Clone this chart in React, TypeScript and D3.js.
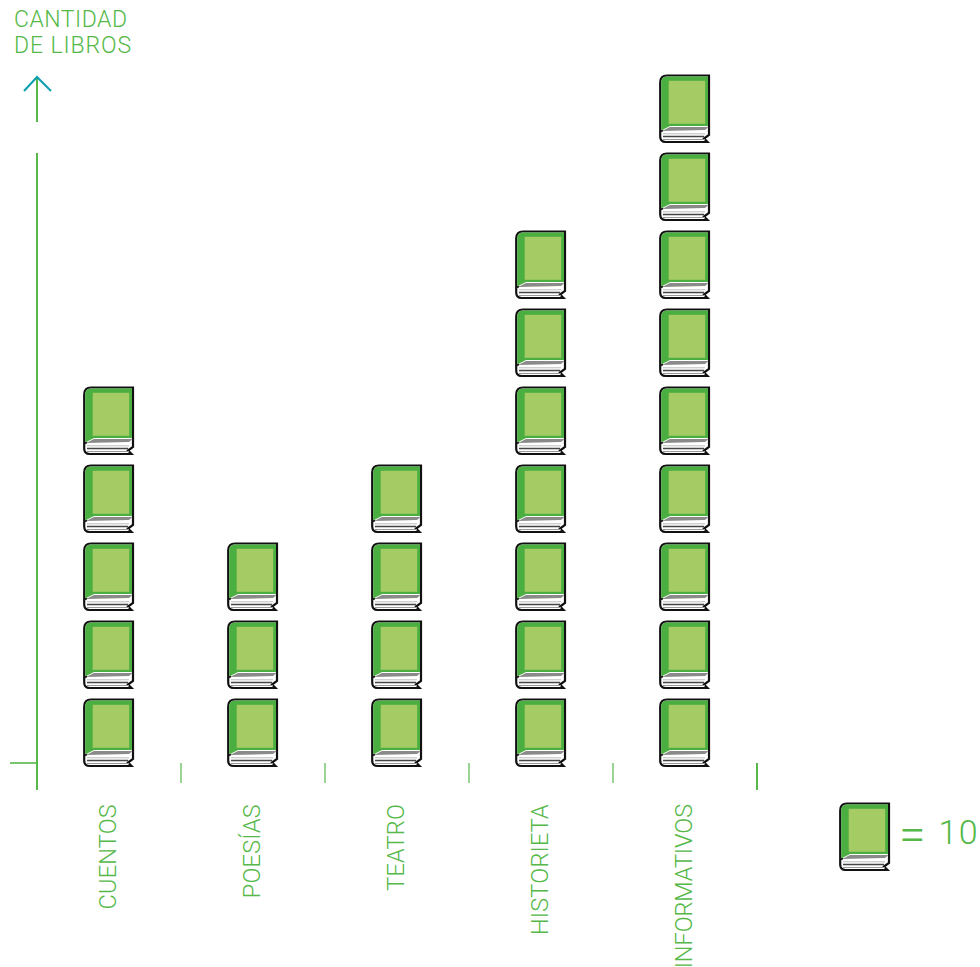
import React from "react";
import * as d3 from "d3";

const categories = ["CUENTOS", "POESÍAS", "TEATRO", "HISTORIETA", "INFORMATIVOS"];
const bookCounts = [5, 3, 4, 7, 9];
const unitValue = 10;
const yTitle = ["CANTIDAD", "DE LIBROS"];
const legendSign = "=";
const legendValue = "10";

const GREEN = "#55b848";
const DARK = "#4bae40";
const LIGHT = "#a5cb65";
const TEAL = "#0a9eb0";
const FONT = "Roboto, 'Liberation Sans', sans-serif";

const x = d3.scaleBand<string>().domain(categories).range([37, 757]);
const y = d3.scaleLinear().domain([0, 90]).range([767, 65]);
const BOOK_W = 51;
const BOOK_H = 68;
const barHeight = y(0) - y(unitValue);

function Book({ tx, ty }: { tx: number; ty: number }) {
  return (
    <g transform={`translate(${tx},${ty - 0.5})`}>
      <path
        d="M1.2,8 Q1.2,1 8,1 L50,1 L50,60.5 L45,64 L48.5,67.5 L6.5,67.5 Q1.2,67.5 1.2,62 Z"
        fill="#fff"
        stroke="#111"
        strokeWidth={2.2}
        strokeLinejoin="miter"
      />
      <path d="M2.2,8 Q2.2,2 8,2 L49,2 L49,51.5 L11,51.5 L2.2,56 Z" fill={DARK} />
      <rect x={9.7} y={6.3} width={36.5} height={43} fill={LIGHT} />
      <path d="M3,56.5 L11,52.5 L49.5,52.5 L46,55.5 Z" fill="#8a8a8a" />
      <path d="M4,59.3 L46,59.3" stroke="#bdbdbd" strokeWidth={1} />
      <path d="M4,62 L45,62" stroke="#444" strokeWidth={1.3} />
      <path d="M4,65 L46,65" stroke="#999" strokeWidth={1.2} />
      <path d="M1.5,57 L4,56" stroke="#111" strokeWidth={1.6} fill="none" />
    </g>
  );
}

export default function App() {
  return (
    <svg
      width={980}
      height={967}
      viewBox="0 0 980 967"
      style={{ position: "absolute", left: 0, top: 0, background: "#fff" }}
    >
      {yTitle.map((t, i) => (
        <text
          key={t}
          x={14}
          y={26.5 + i * 26}
          fontFamily={FONT}
          fontWeight={300}
          fontSize={23}
          letterSpacing={i === 1 ? 0.9 : 0.5}
          fill={GREEN}
        >
          {t}
        </text>
      ))}

      <line x1={37} x2={37} y1={78} y2={122} stroke={GREEN} strokeWidth={2} />
      <path d="M24,91 L37,77 L51,91" fill="none" stroke={TEAL} strokeWidth={2} />
      <line x1={37} x2={37} y1={153} y2={790} stroke={GREEN} strokeWidth={2} />
      <line x1={10} x2={37} y1={763} y2={763} stroke={GREEN} strokeWidth={1.6} />

      {categories.map((c) => {
        const end = (x(c) as number) + x.bandwidth();
        const last = c === categories[categories.length - 1];
        return (
          <line
            key={c}
            x1={end}
            x2={end}
            y1={763}
            y2={last ? 790 : 783}
            stroke={GREEN}
            strokeWidth={last ? 2 : 1.2}
          />
        );
      })}

      {categories.map((c, i) =>
        d3.range(bookCounts[i]).map((k) => (
          <Book
            key={c + k}
            tx={(x(c) as number) + x.bandwidth() / 2 - BOOK_W / 2 - 0.5}
            ty={y((k + 1) * unitValue) + barHeight - BOOK_H}
          />
        ))
      )}

      {categories.map((c) => {
        const cx = (x(c) as number) + x.bandwidth() / 2;
        const isLong = c === "INFORMATIVOS";
        return (
          <text
            key={c}
            transform={`translate(${cx + 7},804) rotate(-90)`}
            textAnchor="end"
            fontFamily={FONT}
            fontWeight={300}
            fontSize={23.5}
            letterSpacing={isLong ? -0.08 : 0.2}
            fill={GREEN}
          >
            {c}
          </text>
        );
      })}

      <Book tx={839} ty={803} />
      <text x={899} y={851} fontFamily={FONT} fontWeight={300} fontSize={48} fill={GREEN}>
        {legendSign}
      </text>
      <text
        x={938.5}
        y={844}
        fontFamily={FONT}
        fontWeight={300}
        fontSize={34}
        letterSpacing={1.5}
        fill={GREEN}
      >
        {legendValue}
      </text>
    </svg>
  );
}
